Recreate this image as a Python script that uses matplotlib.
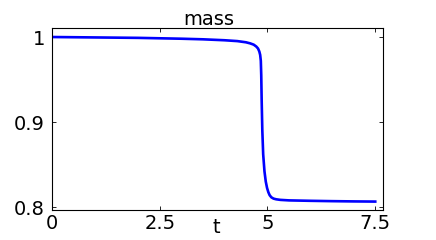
import matplotlib
matplotlib.use("Agg")
import matplotlib.pyplot as plt

t = [0.0, 1.0, 2.0, 3.0, 3.5, 4.0, 4.3, 4.5, 4.6, 4.68, 4.74, 4.78, 4.81, 4.83,
     4.845, 4.855, 4.865, 4.88, 4.9, 4.93, 4.96, 4.99, 5.02, 5.05, 5.09, 5.14,
     5.2, 5.3, 5.5, 6.0, 6.5, 7.0, 7.5]
mass = [1.0, 0.9995, 0.999, 0.998, 0.9973, 0.9962, 0.9952, 0.9938, 0.9925,
        0.991, 0.9888, 0.9865, 0.983, 0.979, 0.972, 0.955, 0.925, 0.89, 0.862,
        0.842, 0.83, 0.8225, 0.8175, 0.814, 0.8115, 0.81, 0.8092, 0.8085,
        0.8079, 0.8074, 0.807, 0.8067, 0.8065]

xticks = [0, 2.5, 5, 7.5]
xticklabels = ["0", "2.5", "5", "7.5"]
yticks = [0.8, 0.9, 1.0]
yticklabels = ["0.8", "0.9", "1"]

plt.rcParams['font.family'] = ['DejaVu Sans']
fig = plt.figure(figsize=(4.36, 2.4), dpi=100)
ax = fig.add_axes([52/436, 30/240, 331/436, 182/240])
ax.plot(t, mass, color=(0, 0, 1), lw=1.9)
ax.set_xlim(0, 7.68)
ax.set_ylim(0.7966, 1.0106)
ax.set_xticks(xticks)
ax.set_xticklabels(xticklabels)
ax.set_yticks(yticks)
ax.set_yticklabels(yticklabels)
ax.tick_params(direction='in', length=3, width=0.6, top=True, right=True,
               labelsize=14, colors='black', pad=5)
ax.tick_params(axis='x', pad=3)
for s in ax.spines.values():
    s.set_linewidth(0.8)
ax.set_title("mass", fontsize=14, pad=2, x=0.475)
ax.text(0.495, -0.045, "t", transform=ax.transAxes, ha='center', va='top', fontsize=14)
fig.savefig("out.png", dpi=100)
